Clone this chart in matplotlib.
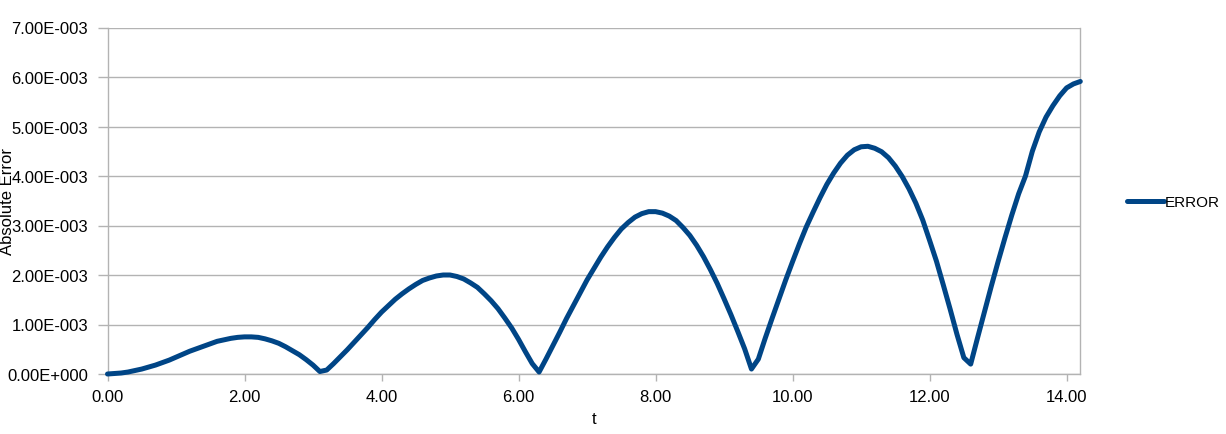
import numpy as np
import matplotlib
matplotlib.use("Agg")
import matplotlib.pyplot as plt
from matplotlib.ticker import FuncFormatter

plt.rcParams['font.family'] = ['Liberation Sans', 'DejaVu Sans']

# ---- data ----
t_values = [round(0.1 * i, 1) for i in range(143)]  # 0.0 .. 14.2 step 0.1
error_e3 = [
    0.00, 0.01, 0.02, 0.04, 0.07, 0.10, 0.14, 0.18, 0.23, 0.28,
    0.34, 0.40, 0.46, 0.51, 0.56, 0.61, 0.66, 0.69, 0.72, 0.74,
    0.75, 0.75, 0.74, 0.71, 0.67, 0.62, 0.55, 0.47, 0.39, 0.29,
    0.18, 0.05, 0.08, 0.21, 0.35, 0.49, 0.64, 0.79, 0.94, 1.10,
    1.25, 1.38, 1.51, 1.62, 1.72, 1.81, 1.89, 1.94, 1.98, 2.00,
    2.00, 1.97, 1.92, 1.84, 1.75, 1.62, 1.48, 1.32, 1.13, 0.93,
    0.70, 0.45, 0.21, 0.04, 0.30, 0.57, 0.84, 1.12, 1.38, 1.64,
    1.90, 2.13, 2.36, 2.57, 2.76, 2.93, 3.06, 3.17, 3.24, 3.28,
    3.28, 3.25, 3.19, 3.10, 2.96, 2.80, 2.60, 2.37, 2.11, 1.83,
    1.52, 1.20, 0.86, 0.51, 0.10, 0.30, 0.72, 1.12, 1.51, 1.90,
    2.27, 2.63, 2.97, 3.27, 3.56, 3.83, 4.06, 4.26, 4.42, 4.53,
    4.59, 4.60, 4.56, 4.49, 4.37, 4.20, 3.99, 3.74, 3.45, 3.11,
    2.70, 2.28, 1.80, 1.31, 0.80, 0.33, 0.20, 0.73, 1.25, 1.77,
    2.27, 2.75, 3.21, 3.64, 4.00, 4.50, 4.89, 5.19, 5.42, 5.62,
    5.78, 5.86, 5.91,
]
error = [v * 1e-3 for v in error_e3]
series_name = "ERROR"
x_ticks = [0, 2, 4, 6, 8, 10, 12, 14]
y_ticks = [i * 1e-3 for i in range(8)]
x_label = "t"
y_label = "Absolute Error"

# ---- figure ----
W, H = 1226, 435
fig = plt.figure(figsize=(W / 100, H / 100), dpi=100)
ax_w = 1080.3 - 107.5
ax = fig.add_axes([107.5 / W, (H - 375) / H, ax_w / W, (375 - 28.5) / H])

line_color = "#004586"
grid_color = "#b3b3b3"

ax.plot(t_values, error, color=line_color, linewidth=3.6, solid_joinstyle='round',
        solid_capstyle='round', label=series_name, clip_on=False, zorder=3)

ax.set_xlim(0, 14.2)
ax.set_ylim(0, 7e-3)
ax.set_xticks(x_ticks)
ax.set_yticks(y_ticks)
ax.xaxis.set_major_formatter(FuncFormatter(lambda v, p: f"{v:.2f}"))

def yfmt(v, p):
    if abs(v) < 1e-12:
        return "0.00E+000"
    exp = int(np.floor(np.log10(abs(v)) + 1e-9))
    mant = v / 10 ** exp
    sign = "-" if exp < 0 else "+"
    return f"{mant:.2f}E{sign}{abs(exp):03d}"

ax.yaxis.set_major_formatter(FuncFormatter(yfmt))

ax.grid(axis='y', color=grid_color, linewidth=1.0)
ax.set_axisbelow(True)
for side in ['left', 'bottom', 'right']:
    ax.spines[side].set_color(grid_color)
    ax.spines[side].set_linewidth(1.0)
ax.spines['top'].set_visible(False)

ax.tick_params(axis='both', colors=grid_color, labelcolor='black', labelsize=12,
               direction='out', width=1.0)
ax.tick_params(axis='y', pad=6.5, length=7.5)
ax.tick_params(axis='x', pad=6, length=5)

ax.set_xlabel(x_label, fontsize=12, labelpad=5)
ax.set_ylabel(y_label, fontsize=12)
ax.yaxis.set_label_coords((15 - 107.5) / ax_w, 0.5)

leg = ax.legend(loc='center left', bbox_to_anchor=(1.0 + (1127 - 1080.3) / ax_w, 0.495),
                frameon=False, fontsize=11, handlelength=2.4, handletextpad=0.05,
                borderaxespad=0, borderpad=0)

fig.savefig("out.png", dpi=100)
